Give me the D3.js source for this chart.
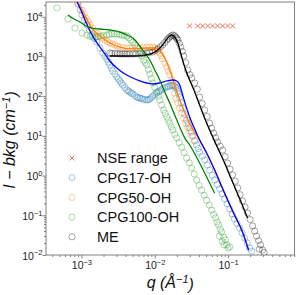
<!DOCTYPE html>
<html>
<head>
<meta charset="utf-8">
<script src="https://cdnjs.cloudflare.com/ajax/libs/d3/7.8.5/d3.min.js"></script>
<style>
  body { margin: 0; background: #fff; }
  svg { font-family: "Liberation Sans", Arial, sans-serif; }
</style>
</head>
<body>
<div class="chart"></div>
<script>
// values: [q (1/A), I - bkg (1/cm)]
var nseData = [[0.0299,5.9e3],[0.0385,5.9e3],[0.045,5.9e3],[0.0526,5.9e3],[0.0615,5.9e3],[0.0719,5.9e3],[0.0841,5.9e3],[0.0984,5.9e3],[0.115,5.9e3]];

var cpg17Data = [[8.96e-4,2.1e4],[9.6e-4,1.5e4],[1.02e-3,1.11e4],[1.1e-3,8.4e3],[1.19e-3,6.2e3],[1.29e-3,4.6e3],[1.39e-3,3.48e3],[1.5e-3,2.85e3],[1.62e-3,2.32e3],[1.79e-3,1.64e3],[1.96e-3,1.22e3],[2.09e-3,1.02e3],[2.22e-3,865],[2.33e-3,730],[2.44e-3,611],[2.56e-3,510],[2.68e-3,432],[2.86e-3,360],[3.04e-3,305],[3.19e-3,270],[3.34e-3,242],[3.5e-3,215],[3.67e-3,191],[3.91e-3,165],[4.16e-3,143],[4.36e-3,135],[4.57e-3,128],[4.79e-3,120],[5.02e-3,114],[5.35e-3,104],[5.69e-3,95],[5.96e-3,92],[6.25e-3,90],[6.55e-3,87],[6.87e-3,85],[7.31e-3,82],[7.78e-3,80],[8.16e-3,82],[8.55e-3,85],[8.97e-3,92],[9.39e-3,101],[1.0e-2,110],[1.06e-2,120],[1.12e-2,128],[1.17e-2,135],[1.22e-2,143],[1.28e-2,152],[1.37e-2,162],[1.46e-2,171],[1.53e-2,176],[1.6e-2,181],[1.68e-2,186],[1.76e-2,191],[1.85e-2,185],[1.93e-2,171],[2.0e-2,155],[2.06e-2,135],[2.12e-2,115],[2.19e-2,95],[2.3e-2,68],[2.4e-2,50],[2.56e-2,35],[2.72e-2,25],[2.85e-2,20],[2.99e-2,15.8],[3.14e-2,12.5],[3.29e-2,9.9],[3.5e-2,7.6],[3.72e-2,5.9],[3.9e-2,4.8],[4.09e-2,3.9],[4.43e-2,3.1],[4.79e-2,2.47],[5.18e-2,1.85],[5.6e-2,1.38],[6.06e-2,1.03],[6.55e-2,0.77],[7.09e-2,0.6],[7.66e-2,0.46],[8.29e-2,0.35],[8.96e-2,0.26],[9.7e-2,0.195],[0.105,0.144],[0.113,0.108],[0.122,0.081],[0.132,0.062],[0.143,0.048],[0.155,0.036],[0.168,0.027],[0.182,0.02],[0.196,0.015],[0.21,0.0125]];
var cpg17Fit = [[8.41e-4,2.65e4],[9.55e-4,1.67e4],[1.12e-3,8.3e3],[1.31e-3,4.39e3],[1.53e-3,2.61e3],[1.79e-3,1.73e3],[2.09e-3,1.16e3],[2.44e-3,771],[3.04e-3,513],[3.91e-3,362],[5.02e-3,287],[6.25e-3,242],[7.78e-3,215],[9.39e-3,203],[1.17e-2,215],[1.46e-2,242],[1.76e-2,256],[1.99e-2,242],[2.19e-2,191],[2.4e-2,107],[2.72e-2,50],[2.99e-2,30],[3.5e-2,14.9],[4.09e-2,7.9],[5.09e-2,3.7],[6.55e-2,1.38],[8.96e-2,0.36],[0.122,0.102],[0.157,0.038],[0.19,0.0134]];

var cpg50Data = [[8.96e-4,2.23e4],[1.02e-3,1.48e4],[1.09e-3,1.15e4],[1.15e-3,9.3e3],[1.23e-3,7.6e3],[1.31e-3,6.2e3],[1.42e-3,5.2e3],[1.53e-3,4.39e3],[1.66e-3,3.8e3],[1.79e-3,3.28e3],[1.94e-3,2.9e3],[2.09e-3,2.61e3],[2.26e-3,2.38e3],[2.44e-3,2.19e3],[2.65e-3,2.05e3],[2.86e-3,1.95e3],[3.1e-3,1.82e3],[3.34e-3,1.73e3],[3.7e-3,1.68e3],[4.16e-3,1.64e3],[4.6e-3,1.64e3],[5.02e-3,1.64e3],[5.6e-3,1.64e3],[6.25e-3,1.64e3],[7.0e-3,1.68e3],[7.78e-3,1.73e3],[8.55e-3,1.73e3],[9.39e-3,1.73e3],[1.0e-2,1.65e3],[1.06e-2,1.55e3],[1.12e-2,1.38e3],[1.17e-2,1.22e3],[1.22e-2,1.05e3],[1.28e-2,865],[1.37e-2,690],[1.46e-2,544],[1.53e-2,430],[1.6e-2,342],[1.7e-2,256],[1.78e-2,180],[1.87e-2,120],[1.96e-2,88],[2.06e-2,67],[2.19e-2,50],[2.33e-2,38],[2.48e-2,28],[2.64e-2,21],[2.8e-2,16.5],[2.99e-2,13.3],[3.2e-2,10],[3.5e-2,7.4]];
var cpg50Fit = [[8.69e-4,2.65e4],[1.12e-3,1.05e4],[1.39e-3,5.2e3],[1.79e-3,3.28e3],[2.44e-3,2.19e3],[3.34e-3,1.73e3],[5.02e-3,1.55e3],[7.78e-3,1.64e3],[1.0e-2,1.64e3],[1.17e-2,1.38e3],[1.37e-2,916],[1.6e-2,457],[1.87e-2,191],[2.19e-2,80],[2.56e-2,40],[3.19e-2,16.5],[4.09e-2,7.9],[5.09e-2,3.7],[6.55e-2,1.38],[8.96e-2,0.36],[0.122,0.102],[0.157,0.038],[0.19,0.0134]];

var cpg100Data = [[4.64e-4,1.67e4],[6.55e-4,8.8e3],[8.16e-4,5.2e3],[1.02e-3,3.91e3],[1.19e-3,3.48e3],[1.31e-3,3.2e3],[1.43e-3,3.1e3],[1.55e-3,3.1e3],[1.69e-3,3.15e3],[1.84e-3,3.25e3],[2.0e-3,3.35e3],[2.22e-3,3.48e3],[2.4e-3,3.6e3],[2.6e-3,3.69e3],[2.8e-3,3.7e3],[3.04e-3,3.69e3],[3.3e-3,3.6e3],[3.56e-3,3.48e3],[3.85e-3,3.4e3],[4.16e-3,3.28e3],[4.43e-3,2.95e3],[4.71e-3,2.61e3],[5.02e-3,2.3e3],[5.35e-3,1.95e3],[5.8e-3,1.6e3],[6.25e-3,1.3e3],[6.65e-3,1.02e3],[7.08e-3,816],[7.4e-3,700],[7.78e-3,611],[8.16e-3,470],[8.55e-3,362],[8.97e-3,280],[9.39e-3,215],[1.0e-2,165],[1.06e-2,128],[1.12e-2,100],[1.17e-2,80],[1.24e-2,60],[1.32e-2,45],[1.39e-2,37],[1.46e-2,30],[1.53e-2,25],[1.6e-2,21],[1.68e-2,17],[1.76e-2,14.1],[1.87e-2,11],[1.99e-2,8.9],[2.15e-2,6.8],[2.33e-2,5.2],[2.52e-2,3.8],[2.72e-2,2.77],[2.95e-2,2.1],[3.19e-2,1.55],[3.45e-2,1.1],[3.72e-2,0.77],[4.03e-2,0.57],[4.36e-2,0.43],[4.71e-2,0.32],[5.09e-2,0.24],[5.52e-2,0.18],[5.97e-2,0.136],[6.35e-2,0.105],[6.76e-2,0.086],[7.1e-2,0.068],[7.43e-2,0.057],[7.8e-2,0.045],[8.17e-2,0.038],[7.6e-2,0.03],[8.69e-2,0.028],[8.3e-2,0.022],[9.2e-2,0.024],[8.8e-2,0.018],[9.55e-2,0.018],[0.1,0.015],[0.105,0.016]];
var cpg100Fit = [[6.55e-4,1.11e4],[7.91e-4,8.8e3],[9.55e-4,7.4e3],[1.15e-3,5.86e3],[1.39e-3,5.2e3],[1.79e-3,4.93e3],[2.44e-3,4.65e3],[3.34e-3,4.14e3],[4.16e-3,3.48e3],[5.02e-3,2.92e3],[6.25e-3,1.84e3],[7.31e-3,1.22e3],[8.55e-3,816],[1.0e-2,457],[1.17e-2,256],[1.37e-2,128],[1.6e-2,67],[1.87e-2,33.6],[2.19e-2,16.8],[2.56e-2,8.9],[2.99e-2,5.9],[4.09e-2,2.07],[5.26e-2,0.82],[6.55e-2,0.36]];

var meData = [[2.44e-3,1.22e3],[2.6e-3,1.2e3],[2.86e-3,1.2e3],[3.1e-3,1.18e3],[3.34e-3,1.16e3],[3.6e-3,1.16e3],[3.9e-3,1.16e3],[4.16e-3,1.16e3],[4.5e-3,1.16e3],[5.02e-3,1.16e3],[5.5e-3,1.16e3],[6.25e-3,1.16e3],[6.9e-3,1.18e3],[7.78e-3,1.22e3],[8.5e-3,1.26e3],[9.39e-3,1.3e3],[1.02e-2,1.42e3],[1.1e-2,1.55e3],[1.19e-2,1.75e3],[1.28e-2,1.95e3],[1.37e-2,2.25e3],[1.46e-2,2.61e3],[1.53e-2,2.85e3],[1.6e-2,3.1e3],[1.68e-2,3.3e3],[1.76e-2,3.48e3],[1.85e-2,3.35e3],[1.93e-2,3.1e3],[2.0e-2,2.85e3],[2.06e-2,2.61e3],[2.16e-2,2.15e3],[2.26e-2,1.73e3],[2.37e-2,1.35e3],[2.48e-2,1.03e3],[2.64e-2,700],[2.81e-2,457],[3.0e-2,350],[3.19e-2,287],[3.5e-2,215],[3.8e-2,150],[4.09e-2,95],[4.43e-2,65],[4.79e-2,45],[5.18e-2,31],[5.6e-2,21],[5.96e-2,15.5],[6.35e-2,11.8],[6.76e-2,9],[7.19e-2,7.0],[7.8e-2,5.5],[8.41e-2,4.4],[9.1e-2,3.0],[9.84e-2,2.07],[0.106,1.45],[0.115,1.04],[0.125,0.72],[0.135,0.49],[0.146,0.33],[0.157,0.23],[0.17,0.16],[0.184,0.114],[0.2,0.078],[0.216,0.054],[0.23,0.04],[0.244,0.03],[0.26,0.023],[0.277,0.018],[0.295,0.0134],[0.265,0.014],[0.31,0.0115]];
var meFit = [[2.44e-3,1.03e3],[3.34e-3,1.03e3],[5.02e-3,1.03e3],[7.31e-3,1.09e3],[9.39e-3,1.22e3],[1.1e-2,1.46e3],[1.28e-2,1.95e3],[1.5e-2,2.92e3],[1.7e-2,3.48e3],[1.87e-2,3.1e3],[2.06e-2,2.19e3],[2.33e-2,971],[2.64e-2,457],[2.99e-2,256],[3.5e-2,128],[4.09e-2,60],[4.79e-2,28],[5.6e-2,14.1],[7.19e-2,5.0],[8.96e-2,2.07],[0.112,0.77],[0.143,0.27],[0.184,0.086]];

var legendLabels = ["NSE range", "CPG17-OH", "CPG50-OH", "CPG100-OH", "ME"];
var xTickValues = [1e-3, 1e-2, 1e-1];
var yTickValues = [1e-2, 1e-1, 1e0, 1e1, 1e2, 1e3, 1e4];

// dimensions for the SVG container
var svgWidth = 297;
var svgHeight = 295;

var margin = {
  top: 2,
  right: 2.5,
  bottom: 40,
  left: 46
};

var width = svgWidth - margin.left - margin.right;
var height = svgHeight - margin.top - margin.bottom;

var svg = d3.select(".chart")
  .append("svg")
  .attr("width", svgWidth)
  .attr("height", svgHeight);

var chartGroup = svg.append("g")
  .attr("transform", `translate(${margin.left}, ${margin.top})`);

// scales (log both ways)
var xLogScale = d3.scaleLog()
  .domain([Math.pow(10, -3.483), Math.pow(10, -0.095)])
  .range([0, width]);

var yLogScale = d3.scaleLog()
  .domain([1e-2, Math.pow(10, 4.373)])
  .range([height, 0]);

svg.append("defs").append("clipPath")
  .attr("id", "plotClip")
  .append("rect")
  .attr("width", width)
  .attr("height", height);

var axisColor = "#808080";

// minor ticks
var xMinor = xLogScale.ticks().filter(d => xTickValues.indexOf(d) < 0);
var yMinor = yLogScale.ticks().filter(d => yTickValues.indexOf(d) < 0);

chartGroup.append("g")
  .attr("transform", `translate(0, ${height})`)
  .call(d3.axisBottom(xLogScale).tickValues(xMinor).tickSize(2).tickSizeOuter(0).tickFormat(""))
  .call(g => g.select(".domain").remove())
  .selectAll("line").attr("stroke", axisColor);

chartGroup.append("g")
  .call(d3.axisLeft(yLogScale).tickValues(yMinor).tickSize(2).tickSizeOuter(0).tickFormat(""))
  .call(g => g.select(".domain").remove())
  .selectAll("line").attr("stroke", axisColor);

// major ticks with 10^n labels
var bottomAxis = d3.axisBottom(xLogScale).tickValues(xTickValues).tickSize(3.5).tickSizeOuter(0);
var leftAxis = d3.axisLeft(yLogScale).tickValues(yTickValues).tickSize(3.5).tickSizeOuter(0);

function powerLabel(sel) {
  sel.each(function(d) {
    var t = d3.select(this).text("");
    var e = Math.round(Math.log10(d));
    t.append("tspan").text("10");
    t.append("tspan")
      .attr("dy", "-0.55em")
      .attr("font-size", "7.5px")
      .text(e < 0 ? "\u2212" + (-e) : String(e));
  });
}

var xAxisG = chartGroup.append("g")
  .attr("transform", `translate(0, ${height})`)
  .call(bottomAxis);
xAxisG.select(".domain").remove();
xAxisG.selectAll("line").attr("stroke", axisColor);
xAxisG.selectAll("text")
  .attr("y", 14)
  .attr("dy", 0)
  .attr("fill", "#222")
  .attr("font-size", "10.5px")
  .attr("font-family", "Liberation Sans, Arial, sans-serif")
  .call(powerLabel);

var yAxisG = chartGroup.append("g").call(leftAxis);
yAxisG.select(".domain").remove();
yAxisG.selectAll("line").attr("stroke", axisColor);
yAxisG.selectAll("text")
  .attr("x", -3.5)
  .attr("dy", "0.38em")
  .attr("fill", "#222")
  .attr("font-size", "10.5px")
  .attr("font-family", "Liberation Sans, Arial, sans-serif")
  .call(powerLabel);

// frame
chartGroup.append("rect")
  .attr("width", width)
  .attr("height", height)
  .attr("fill", "none")
  .attr("stroke", axisColor)
  .attr("stroke-width", 1);

var plotArea = chartGroup.append("g").attr("clip-path", "url(#plotClip)");

var series = [
  { data: cpg17Data, color: "#1f77b4", alpha: 0.4 },
  { data: cpg50Data, color: "#ff7f0e", alpha: 0.4 },
  { data: cpg100Data, color: "#2ca02c", alpha: 0.4 },
  { data: meData, color: "#000000", alpha: 0.35 }
];

series.forEach(function(s) {
  plotArea.append("g").selectAll("circle")
    .data(s.data)
    .enter()
    .append("circle")
    .attr("cx", d => xLogScale(d[0]))
    .attr("cy", d => yLogScale(d[1]))
    .attr("r", 3.1)
    .attr("fill", "none")
    .attr("stroke", s.color)
    .attr("stroke-opacity", s.alpha)
    .attr("stroke-width", 1);
});

var fitLine = d3.line()
  .x(d => xLogScale(d[0]))
  .y(d => yLogScale(d[1]))
  .curve(d3.curveMonotoneX);

var fits = [
  { data: cpg50Fit, color: "#ff7f0e" },
  { data: cpg17Fit, color: "#0000ff" },
  { data: cpg100Fit, color: "#008000" },
  { data: meFit, color: "#000000" }
];

fits.forEach(function(f) {
  plotArea.append("path")
    .datum(f.data)
    .attr("d", fitLine)
    .attr("fill", "none")
    .attr("stroke", f.color)
    .attr("stroke-width", 1.3);
});

// NSE range crosses
var nseColor = "#e2553a";
var crossPath = "M-2.4,-2.4L2.4,2.4M-2.4,2.4L2.4,-2.4";
plotArea.append("g").selectAll("path")
  .data(nseData)
  .enter()
  .append("path")
  .attr("transform", d => `translate(${xLogScale(d[0])}, ${yLogScale(d[1])})`)
  .attr("d", crossPath)
  .attr("stroke", nseColor)
  .attr("stroke-opacity", 0.8)
  .attr("stroke-width", 1);

// legend
var legendColors = [nseColor, "#1f77b4", "#ff7f0e", "#2ca02c", "#000000"];
var legend = chartGroup.append("g").attr("transform", "translate(26, 156)");
legendLabels.forEach(function(label, i) {
  var row = legend.append("g").attr("transform", `translate(0, ${i * 19.7})`);
  if (i === 0) {
    row.append("path")
      .attr("d", crossPath)
      .attr("stroke", legendColors[i])
      .attr("stroke-opacity", 0.8);
  } else {
    row.append("circle")
      .attr("r", 3.1)
      .attr("fill", "none")
      .attr("stroke", legendColors[i])
      .attr("stroke-opacity", i === 4 ? 0.35 : 0.4);
  }
  row.append("text")
    .attr("x", 25)
    .attr("dy", "0.36em")
    .attr("font-size", "14.5px")
    .attr("fill", "#111")
    .text(label);
});

// axis labels
svg.append("text")
  .attr("transform", `translate(15, ${margin.top + 138}) rotate(-90)`)
  .attr("text-anchor", "middle")
  .attr("font-size", "16px")
  .attr("font-style", "italic")
  .attr("fill", "#111")
  .call(t => {
    t.append("tspan").text("I \u2212 bkg (cm");
    t.append("tspan").attr("dy", "-0.45em").attr("font-size", "11px").text("\u22121");
    t.append("tspan").attr("dy", "0.45em").text(")");
  });

svg.append("text")
  .attr("transform", `translate(${margin.left + width / 2}, 288)`)
  .attr("text-anchor", "middle")
  .attr("font-size", "16px")
  .attr("font-style", "italic")
  .attr("fill", "#111")
  .call(t => {
    t.append("tspan").text("q (\u00c5");
    t.append("tspan").attr("dy", "-0.45em").attr("font-size", "11px").text("\u22121");
    t.append("tspan").attr("dy", "0.45em").text(")");
  });
</script>
</body>
</html>
